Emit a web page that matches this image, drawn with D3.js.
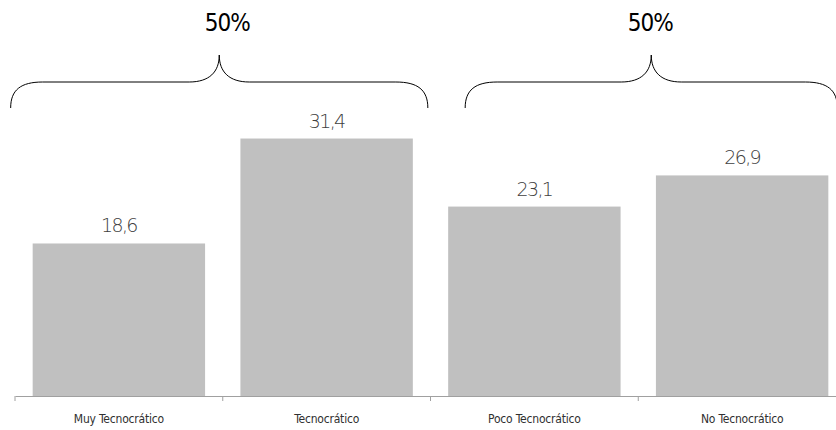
<!DOCTYPE html>
<html><head><meta charset="utf-8">
<script src="https://cdn.jsdelivr.net/npm/d3@7"></script>
<style>body{margin:0;background:#fff}svg{display:block}</style>
</head><body>
<svg id="c" width="836" height="430"></svg>
<script>
const categories = ["Muy Tecnocrático", "Tecnocrático", "Poco Tecnocrático", "No Tecnocrático"];
const values = [18.6, 31.4, 23.1, 26.9];
const groupLabels = ["50%", "50%"];
const groups = [[0, 1], [2, 3]];

const W = 836, H = 430;
const svg = d3.select("#c");
const x = d3.scaleBand().domain(categories).range([15, 846]).paddingInner(0.17).paddingOuter(0.085);
const y = d3.scaleLinear().domain([0, 35]).range([396, 109]);
const fmt = v => d3.format(".1f")(v).replace(".", ",");

// bars
svg.selectAll("rect.bar").data(categories).join("rect")
  .attr("x", d => x(d)).attr("y", (d, i) => y(values[i]))
  .attr("width", x.bandwidth()).attr("height", (d, i) => y(0) - y(values[i]))
  .attr("fill", "#c0c0c0");

// value labels
svg.selectAll("text.val").data(categories).join("text")
  .attr("x", d => x(d) + x.bandwidth() / 2).attr("y", (d, i) => y(values[i]) - 11)
  .attr("text-anchor", "middle").attr("font-family", "DejaVu Sans, DejaVu Sans Condensed")
  .attr("font-weight", 200)
  .attr("font-size", 19).attr("letter-spacing", "-1.6px").attr("fill", "#404040")
  .text((d, i) => fmt(values[i]));

// axis
const ax = svg.append("g").attr("transform", `translate(0,${y(0)})`)
  .call(d3.axisBottom(x).tickSize(0).tickPadding(18));
ax.select(".domain").attr("stroke", "#a0a0a0");
ax.selectAll("text").attr("font-family", "DejaVu Sans Condensed").attr("font-size", 12)
  .attr("letter-spacing", "-0.2px").attr("fill", "#303030");
const step = x.step(), gap = step * x.paddingInner();
const bounds = categories.map(c => x(c) - gap / 2).concat([x(categories[categories.length - 1]) + x.bandwidth() + gap / 2]);
svg.selectAll("line.tk").data(bounds).join("line")
  .attr("x1", d => d).attr("x2", d => d).attr("y1", y(0)).attr("y2", y(0) + 5)
  .attr("stroke", "#a0a0a0");

// braces
const yb = 108, yh = 82, yt = 55;
function brace(x0, x1, xc) {
  return `M${x0},${yb} C${x0},${yb - 18} ${x0 + 10},${yh} ${x0 + 32},${yh} L${xc - 30},${yh} C${xc - 10},${yh} ${xc},${yh - 10} ${xc},${yt}` +
    ` C${xc},${yh - 10} ${xc + 10},${yh} ${xc + 30},${yh} L${x1 - 32},${yh} C${x1 - 10},${yh} ${x1},${yb - 18} ${x1},${yb}`;
}
const braceSpec = [
  { x0: x(categories[0]) - 22, x1: x(categories[1]) + x.bandwidth() + 15, dx: 8 },
  { x0: x(categories[2]) + 17, x1: x(categories[3]) + x.bandwidth() + 9, dx: -1 }
];
braceSpec.forEach((b, i) => {
  const xc = (b.x0 + b.x1) / 2;
  svg.append("path").attr("d", brace(b.x0, b.x1, xc)).attr("fill", "none").attr("stroke", "#000").attr("stroke-width", 1);
  svg.append("text").attr("x", xc + b.dx).attr("y", 31).attr("text-anchor", "middle")
    .attr("font-family", "DejaVu Sans Condensed").attr("font-size", 24).attr("letter-spacing", "-1px")
    .attr("fill", "#000").text(groupLabels[i]);
});
</script>
</body></html>
